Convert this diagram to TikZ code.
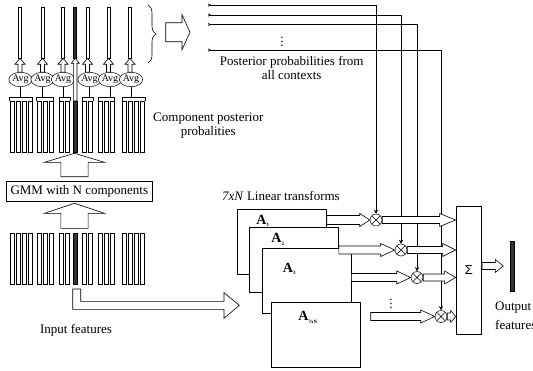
\documentclass[tikz,border=0pt]{standalone}
\usepackage{fontspec}
\setmainfont{Liberation Serif}
\newfontfamily\sigfont{Liberation Sans}
\usepackage{tikz}
\usetikzlibrary{calc,shapes.geometric,arrows.meta,decorations.pathreplacing}
\tikzset{
  featbar/.style  = {draw, line width=0.5pt, fill=white, minimum width=4pt,
                     minimum height=51pt, inner sep=0pt, anchor=north west},
  ctxbar/.style   = {featbar, fill=black!80},
  topbar/.style   = {draw, line width=0.5pt, fill=white, minimum width=3.4pt,
                     minimum height=51pt, inner sep=0pt},
  avgnode/.style  = {ellipse, draw, line width=0.5pt, fill=white, minimum width=21.5pt,
                     minimum height=14.4pt, inner sep=0pt,
                     font=\fontsize{10}{10}\selectfont},
  blockarr/.style = {draw, line width=0.6pt, fill=white},
  matbox/.style   = {draw, line width=0.6pt, fill=white, minimum width=89pt,
                     minimum height=65pt, inner sep=0pt, anchor=north west},
  matlab/.style   = {font=\fontsize{14}{14}\selectfont\bfseries, inner sep=0pt},
  mulnode/.style  = {circle, draw, line width=0.5pt, fill=white, minimum size=12pt,
                     inner sep=0pt,
                     path picture={\draw (path picture bounding box.north west) --
                                         (path picture bounding box.south east)
                                         (path picture bounding box.north east) --
                                         (path picture bounding box.south west);}},
  ctxline/.style  = {{Stealth[reversed,length=3pt,width=3pt]}-{Stealth[length=4pt,width=4pt]},
                     line width=0.5pt},
  txt/.style      = {align=center, inner sep=0pt},
}
\newcommand{\hblock}[5]{%
  \draw[blockarr] let \p1 = (#1), \p2 = (#2) in
    (\x1,\y1+#3) -- (\x2-#5,\y1+#3) -- (\x2-#5,\y1+#4) -- (\x2,\y1)
    -- (\x2-#5,\y1-#4) -- (\x2-#5,\y1-#3) -- (\x1,\y1-#3) -- cycle;
}
\newcommand{\vblock}[5]{%
  \draw[blockarr] let \p1 = (#1), \p2 = (#2) in
    (\x1-#3,\y1) -- (\x1-#3,\y2-#5) -- (\x1-#4,\y2-#5) -- (\x1,\y2)
    -- (\x1+#4,\y2-#5) -- (\x1+#3,\y2-#5) -- (\x1+#3,\y1) -- cycle;
}
\newcommand{\barrow}[2]{%
  \foreach \x [count=\i] in {9.5,15.5,21.5,27.5,36.7,42.7,48.7,59.3,65.3,
                             82.3,88.3,98,104,110,122.3,128.3,134.3,140.3}
    \node[featbar] (#1\i) at (\x,#2) {};
  \node[ctxbar] (#1c) at (73,#2) {};
}

\begin{document}
\begin{tikzpicture}[x=1pt, y=-1pt, font=\fontsize{13}{14}\selectfont]
  \useasboundingbox (0,0) rectangle (533,370);

  \barrow{mid}{101}
  \barrow{in}{233}

  \node[topbar, fill=black!80] (topc) at (75,32.5) {};
  \foreach \g/\x/\e/\a/\b in {1/20/20.5/1/4, 2/42.5/42.5/5/7, 3/63/63/8/9,
                              4/87.5/89.5/10/11, 5/108.5/110/12/14, 6/130/131/15/18} {
    \node[topbar] (top\g) at (\x,32.5) {};
    \node[avgnode] (avg\g) at (\e,79.5) {Avg};
    \vblock{top\g.south |- avg\g.north}{top\g.south}{2}{5}{6}
    \draw[line width=0.5pt] (mid\a.north west) -- ++(0,-4) -| (mid\b.north east);
    \draw[line width=0.5pt] (avg\g.south) -- (avg\g.south |- 0,97);
  }
  \vblock{midc.north}{topc.south}{1.7}{4}{5}

  \node[draw, line width=0.6pt, minimum width=146.7pt, minimum height=20pt,
        inner sep=0pt] (gmm) at (79.3,191.7) {GMM with N components};
  \coordinate (uptail) at (74.5,176.7);
  \coordinate (uptip) at (74.5,153.3);
  \coordinate (lowtail) at (74.5,228.3);
  \coordinate (lowtip) at (74.5,203.3);
  \vblock{uptail}{uptip}{13.6}{30}{9}
  \vblock{lowtail}{lowtip}{13.6}{30}{10}

  \draw[blockarr] (72.7,289) -- (72.7,309.3) -- (224,309.3) -- (224,318.3)
    -- (239.3,305.3) -- (224,292.7) -- (224,301.3) -- (80.7,301.3)
    -- (80.7,289) -- cycle;
  \node[txt] (inlab) at (76,330) {Input features};

  \draw[line width=0.6pt, decorate, decoration={brace, amplitude=8pt}]
    (148,5) -- (148,63);
  \coordinate (bracetail) at (165.7,32.2);
  \coordinate (bracetip) at (190,32.2);
  \hblock{bracetail}{bracetip}{9.5}{17.5}{8}

  \node[txt] (complab) at (208.3,125.5) {Component posterior\\probalities};
  \node[txt] (postlab) at (291.7,67.5) {Posterior probabilities from\\all contexts};
  \node[txt] (dots1) at (282,39) {$\vdots$};
  \node[txt] (lintr) at (281,196) {\textit{7xN} Linear transforms};

  \node[matbox] (mat1) at (237.3,209.3) {};
  \node[matlab] (lab1) at (263,221) {A\textsubscript{\tiny 1}};
  \node[matbox] (mat2) at (249.3,227.3) {};
  \node[matlab] (lab2) at (278,239.3) {A\textsubscript{\tiny 2}};
  \node[matbox] (mat3) at (261.7,247.7) {};
  \node[matlab] (lab3) at (289.5,269.3) {A\textsubscript{\tiny 3}};
  \node[matbox] (mat4) at (270.7,301.7) {};
  \node[matlab] (lab4) at (308,317.3) {A\textsubscript{\tiny 7xN}};

  \node[mulnode] (m1) at (376,220) {};
  \node[mulnode] (m2) at (401,250) {};
  \node[mulnode] (m3) at (417,277.5) {};
  \node[mulnode] (m4) at (441,316.5) {};
  \node[txt] (dots2) at (391,301) {$\vdots$};

  \coordinate (ctx1) at (208,5);
  \coordinate (ctx2) at (208,15);
  \coordinate (ctx3) at (208,24.5);
  \coordinate (ctx4) at (208,50);
  \foreach \i in {1,...,4}
    \draw[ctxline] (ctx\i) -| (m\i.north);

  \node[draw, line width=0.6pt, minimum width=25.7pt, minimum height=128pt,
        inner sep=0pt] (sig) at (468.8,270) {\sigfont Σ};

  \hblock{mat1.east |- m1.west}{m1.west}{4.5}{6.5}{10}
  \hblock{mat2.east |- m2.west}{m2.west}{4}{6.5}{14}
  \hblock{mat3.east |- m3.west}{m3.west}{4}{6.5}{14}
  \coordinate (mat4out) at (370.7,316.5);
  \hblock{mat4out}{m4.west}{4}{6.5}{14}

  \hblock{m1.east}{sig.west |- m1.east}{3.5}{6.5}{16}
  \hblock{m2.east}{sig.west |- m2.east}{3.5}{6.5}{13}
  \hblock{m3.east}{sig.west |- m3.east}{3.5}{6.5}{11}
  \hblock{m4.east}{sig.west |- m4.east}{3.5}{6}{5}

  \coordinate (outtip) at (503.3,266);
  \hblock{sig.east |- outtip}{outtip}{3.5}{6.5}{8}
  \node[draw, fill=black!80, minimum width=4pt, minimum height=50pt,
        inner sep=0pt] (outbar) at (512,266) {};
  \node[align=left, anchor=west, inner sep=0pt] (outlab) at (495,316)
    {Output\\[5pt]features};
\end{tikzpicture}
\end{document}
